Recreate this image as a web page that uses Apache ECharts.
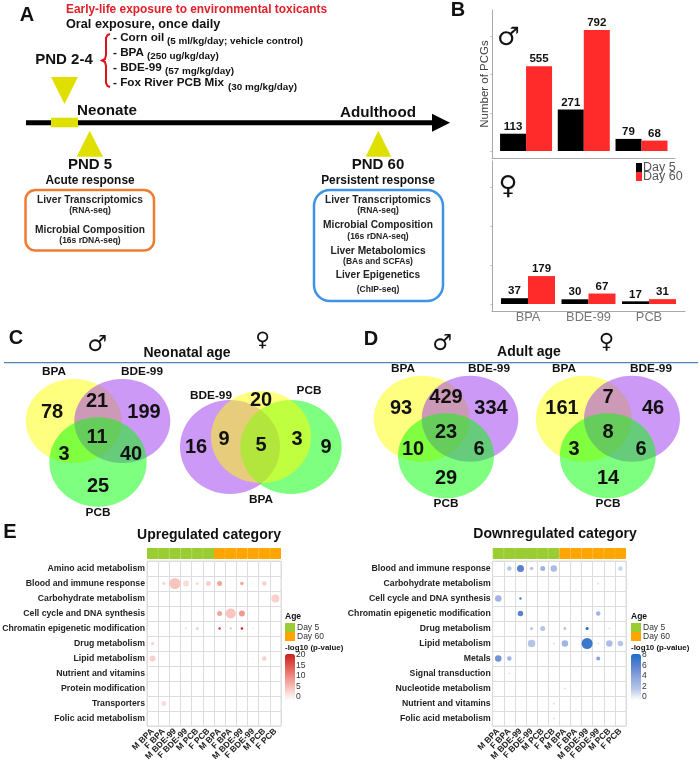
<!DOCTYPE html>
<html>
<head>
<meta charset="utf-8">
<title>Early-life exposure</title>
<script src="https://cdn.jsdelivr.net/npm/echarts@6/dist/echarts.min.js"></script>
<style>
    html, body { margin: 0; padding: 0; background: #fff; }
    #chart { width: 700px; height: 761px; }
</style>
</head>
<body>
<div id="chart"></div>
<script>
// panel B
const toxicants = ['BPA', 'BDE-99', 'PCB'];
const maleDay5 = [113, 271, 79];
const maleDay60 = [555, 792, 68];
const femaleDay5 = [37, 30, 17];
const femaleDay60 = [179, 67, 31];
const pcgTicks = [0, 250, 500, 750];

// panels C and D, region counts
const vennNeoMale = [78, 21, 199, 11, 3, 40, 25];
const vennNeoFemale = [16, 9, 20, 5, 3, 9];
const vennAdultMale = [93, 429, 334, 23, 10, 6, 29];
const vennAdultFemale = [161, 7, 46, 8, 3, 6, 14];

// panel E
const columns = ['M BPA', 'F BPA', 'M BDE-99', 'F BDE-99', 'M PCB', 'F PCB',
    'M BPA', 'F BPA', 'M BDE-99', 'F BDE-99', 'M PCB', 'F PCB'];
const ageGroups = ['Day 5', 'Day 5', 'Day 5', 'Day 5', 'Day 5', 'Day 5',
    'Day 60', 'Day 60', 'Day 60', 'Day 60', 'Day 60', 'Day 60'];
const upCategories = ['Amino acid metabolism', 'Blood and immune response', 'Carbohydrate metabolism',
    'Cell cycle and DNA synthesis', 'Chromatin epigenetic modification', 'Drug metabolism', 'Lipid metabolism',
    'Nutrient and vitamins', 'Protein modification', 'Transporters', 'Folic acid metabolism'];
const downCategories = ['Blood and immune response', 'Carbohydrate metabolism', 'Cell cycle and DNA synthesis',
    'Chromatin epigenetic modification', 'Drug metabolism', 'Lipid metabolism', 'Metals', 'Signal transduction',
    'Nucleotide metabolism', 'Nutrient and vitamins', 'Folic acid metabolism'];
// column, row, size, -log10 p
const upDots = [
    [4, 0, 2, 1],
    [1, 1, 3.5, 3], [2, 1, 11, 5], [3, 1, 6, 3], [4, 1, 3, 3], [5, 1, 5, 4], [6, 1, 5, 8], [8, 1, 3.5, 8], [9, 1, 2, 1], [10, 1, 4.5, 4],
    [9, 2, 1.5, 0.5], [11, 2, 8, 4],
    [4, 3, 2, 1], [6, 3, 5, 8], [7, 3, 10, 5], [8, 3, 6, 9],
    [3, 4, 2.5, 2], [4, 4, 3, 4], [6, 4, 2.5, 17], [7, 4, 2, 7], [8, 4, 2.5, 20], [9, 4, 2, 2],
    [0, 5, 3, 4],
    [0, 6, 6, 4], [4, 6, 2, 1], [5, 6, 2, 0.5], [9, 6, 2, 1], [10, 6, 4.5, 4],
    [5, 7, 1.5, 0.5],
    [9, 8, 1.5, 0.5],
    [1, 9, 5, 3],
    [5, 10, 1.5, 0.5]
];
const downDots = [
    [1, 0, 4.5, 2], [2, 0, 7, 6], [3, 0, 3.5, 2], [4, 0, 5, 3], [5, 0, 6.5, 2.5], [11, 0, 4.5, 1.5],
    [9, 1, 2, 1],
    [0, 2, 6.5, 3], [2, 2, 2.5, 6],
    [2, 3, 5.5, 6], [9, 3, 4.5, 3],
    [3, 4, 3, 2], [4, 4, 5, 2], [6, 4, 3, 2], [8, 4, 3, 8], [10, 4, 2, 1],
    [3, 5, 7.5, 2], [5, 5, 2, 1], [6, 5, 6.5, 3], [8, 5, 11, 7], [9, 5, 2, 1], [10, 5, 6.5, 2.5], [11, 5, 5.5, 2],
    [0, 6, 6.5, 5], [1, 6, 4.5, 3], [9, 6, 4, 4],
    [1, 7, 2, 1],
    [6, 8, 2, 1],
    [5, 9, 2, 1],
    [5, 10, 2, 1]
];
const upScale = [20, 15, 10, 5, 0];
const downScale = [8, 6, 4, 2, 0];

const FONT = '"Liberation Sans", Arial, sans-serif';
const graphics = [];

function text(x, y, str, size, opts) {
    opts = opts || {};
    graphics.push({
        type: 'text', x: x, y: y, silent: true, z: 20,
        style: {
            text: str,
            font: (opts.normal ? '' : 'bold ') + size + 'px ' + (opts.family || FONT),
            fill: opts.fill || '#111',
            textAlign: opts.align || 'center',
            textVerticalAlign: 'middle'
        }
    });
}
function ellipse(cx, cy, rx, ry, fill) {
    graphics.push({ type: 'ellipse', silent: true, z: 5, shape: { cx: cx, cy: cy, rx: rx, ry: ry }, style: { fill: fill } });
}
function triangle(points) {
    graphics.push({ type: 'polygon', silent: true, z: 6, shape: { points: points }, style: { fill: '#e0e000' } });
}
function box(x, y, w, h, r, color) {
    graphics.push({ type: 'rect', silent: true, z: 6, shape: { x: x, y: y, width: w, height: h, r: r }, style: { fill: '#fff', stroke: color, lineWidth: 2.5 } });
}
function gender(x, y, male, size) {
    text(x, y, male ? '\u2642' : '\u2640', size, { normal: true, family: '"DejaVu Sans"' });
}

const YELLOW = 'rgba(255,255,0,0.5)';
const PURPLE = 'rgba(153,51,238,0.5)';
const GREEN = 'rgba(0,255,0,0.5)';

// ---- panel A
text(27, 15, 'A', 20);
text(66, 9.5, 'Early-life exposure to environmental toxicants', 11.9, { align: 'left', fill: '#e0202a' });
text(66, 24, 'Oral exposure, once daily', 12.7, { align: 'left' });
text(113, 38, '- Corn oil', 11.7, { align: 'left' });
text(167, 41, '(5 ml/kg/day; vehicle control)', 9.9, { align: 'left' });
text(113, 53, '- BPA', 11.7, { align: 'left' });
text(147, 56, '(250 ug/kg/day)', 9.9, { align: 'left' });
text(113, 68, '- BDE-99', 11.7, { align: 'left' });
text(165, 71, '(57 mg/kg/day)', 9.9, { align: 'left' });
text(113, 83, '- Fox River PCB Mix', 11.7, { align: 'left' });
text(228, 87, '(30 mg/kg/day)', 9.9, { align: 'left' });
text(64, 60, 'PND 2-4', 15);
graphics.push({
    type: 'polyline', silent: true, z: 6,
    shape: { points: [[110, 34], [107.5, 35], [106, 38], [106, 55], [105, 59], [102, 60.5], [105, 62], [106, 66], [106, 83], [107.5, 86], [110, 87]] },
    style: { fill: null, stroke: '#e0101a', lineWidth: 2 }
});
triangle([[51, 77], [78, 77], [64.5, 104]]);
graphics.push({ type: 'rect', silent: true, z: 5, shape: { x: 26, y: 120.2, width: 407, height: 5 }, style: { fill: '#000' } });
graphics.push({ type: 'polygon', silent: true, z: 5, shape: { points: [[432, 113.7], [450, 122.7], [432, 131.7]] }, style: { fill: '#000' } });
graphics.push({ type: 'rect', silent: true, z: 6, shape: { x: 51, y: 117.7, width: 27, height: 9.6 }, style: { fill: '#e0e000' } });
text(77, 111, 'Neonate', 15.2, { align: 'left' });
text(378, 113, 'Adulthood', 15.2);
triangle([[76.7, 156.7], [103, 156.7], [89.7, 130.7]]);
triangle([[365.7, 156.7], [391.3, 156.7], [378.3, 130.7]]);
text(90, 164.5, 'PND 5', 15);
text(378, 164.5, 'PND 60', 15);
text(90, 181, 'Acute response', 11.9);
text(378, 181, 'Persistent response', 11.9);
box(25.5, 190, 128.5, 60.5, 10, '#ed7d31');
box(314, 190, 129, 111, 16, '#3d94e6');
[
    [90, 200, 'Liver Transcriptomics', 10.2], [90, 211, '(RNA-seq)', 8.5],
    [90, 230, 'Microbial Composition', 10.2], [90, 241, '(16s rDNA-seq)', 8.5],
    [378, 200, 'Liver Transcriptomics', 10.2], [378, 211, '(RNA-seq)', 8.5],
    [378, 225.5, 'Microbial Composition', 10.2], [378, 236.5, '(16s rDNA-seq)', 8.5],
    [378, 251, 'Liver Metabolomics', 10.2], [378, 262, '(BAs and SCFAs)', 8.5],
    [378, 275, 'Liver Epigenetics', 10.2], [378, 290, '(ChIP-seq)', 8.5]
].forEach(t => text(t[0], t[1], t[2], t[3], { fill: '#222' }));

// ---- panel B annotations
text(458, 10, 'B', 20);
gender(508.5, 38.5, true, 25.5);
gender(508, 187, false, 26);

// ---- panels C, D
graphics.push({ type: 'rect', silent: true, z: 4, shape: { x: 4, y: 362, width: 694, height: 1.2 }, style: { fill: '#4a86b8' } });
text(16, 338, 'C', 20);
text(371, 339, 'D', 20);
gender(97, 345, true, 22);
gender(262.5, 340.5, false, 20);
gender(442, 344, true, 22);
gender(606.5, 343, false, 21);
text(187, 353, 'Neonatal age', 14);
text(529, 352, 'Adult age', 14);

ellipse(73.7, 421, 48, 42, YELLOW);
ellipse(122.3, 421, 48, 42, PURPLE);
ellipse(98, 462, 48.7, 44.7, GREEN);

ellipse(230, 447, 50, 47, PURPLE);
ellipse(291, 447, 50.7, 47, GREEN);
ellipse(261, 437, 50, 46, YELLOW);

ellipse(421.7, 418.7, 48, 43, YELLOW);
ellipse(470, 418.7, 48.3, 43, PURPLE);
ellipse(446, 455.8, 48, 42.5, GREEN);

ellipse(583.8, 418.7, 48, 43, YELLOW);
ellipse(632, 418.7, 48, 43, PURPLE);
ellipse(607.8, 455.8, 48, 42.5, GREEN);

const neoMaleSpots = [[52, 412], [97, 401], [144, 412], [97, 437], [64, 454], [131, 454], [98, 486]];
const neoFemaleSpots = [[196, 447], [224, 439], [261, 400], [261, 445], [297, 439], [326, 447]];
const adultMaleSpots = [[401, 408], [446, 397], [491, 408], [446, 432], [413, 449], [479, 449], [446, 478]];
const adultFemaleSpots = [[562, 408], [608, 397], [653, 408], [608, 432], [574, 449], [641, 449], [608, 478]];
function vennNumbers(values, spots) {
    values.forEach((v, i) => text(spots[i][0], spots[i][1], String(v), 20));
}
vennNumbers(vennNeoMale, neoMaleSpots);
vennNumbers(vennNeoFemale, neoFemaleSpots);
vennNumbers(vennAdultMale, adultMaleSpots);
vennNumbers(vennAdultFemale, adultFemaleSpots);
[
    [54, 372, 'BPA'], [142, 372, 'BDE-99'], [98, 513, 'PCB'],
    [211, 396, 'BDE-99'], [309, 391, 'PCB'], [261, 500, 'BPA'],
    [403, 369, 'BPA'], [489, 369, 'BDE-99'], [446, 504, 'PCB'],
    [564, 369, 'BPA'], [651, 369, 'BDE-99'], [608, 504, 'PCB']
].forEach(t => text(t[0], t[1], t[2], 11.8));

// ---- panel E annotations
text(10, 532, 'E', 20);
text(209, 535, 'Upregulated category', 14);
text(555, 534, 'Downregulated category', 14);

function dotLegend(x, scale) {
    text(x, 617, 'Age', 8.5, { align: 'left' });
    graphics.push({ type: 'rect', silent: true, shape: { x: x, y: 623, width: 10, height: 9 }, style: { fill: '#9acd32' } });
    graphics.push({ type: 'rect', silent: true, shape: { x: x, y: 632, width: 10, height: 9 }, style: { fill: '#ffa500' } });
    text(x + 12, 628, 'Day 5', 8.5, { align: 'left', normal: true, fill: '#333' });
    text(x + 12, 636.5, 'Day 60', 8.5, { align: 'left', normal: true, fill: '#333' });
    text(x, 648, '-log10 (p-value)', 7.9, { align: 'left' });
    const spots = [655, 666, 676, 687, 697];
    scale.forEach((v, i) => text(x + 11, spots[i], String(v), 8.5, { align: 'left', normal: true, fill: '#333' }));
}
dotLegend(285, upScale);
dotLegend(631, downScale);

// ---- grids
const grids = [
    { left: 492, top: 10, width: 183, height: 148, outerBoundsMode: 'none' },
    { left: 492, top: 161, width: 193, height: 150, outerBoundsMode: 'none' },
    { left: 147, top: 561, width: 134, height: 165, show: true, borderColor: '#ddd', borderWidth: 1, outerBoundsMode: 'none' },
    { left: 492.7, top: 561, width: 133.3, height: 165, show: true, borderColor: '#ddd', borderWidth: 1, outerBoundsMode: 'none' },
    { left: 147, top: 548, width: 134, height: 11, outerBoundsMode: 'none' },
    { left: 492.7, top: 548, width: 133.3, height: 11, outerBoundsMode: 'none' }
];

function pcgX(grid, min, max, labels) {
    return {
        type: 'value', gridIndex: grid, min: min, max: max,
        splitLine: { show: false }, axisTick: { show: false },
        axisLine: { show: true, onZero: false, lineStyle: { color: '#aaa' } },
        axisLabel: labels
            ? { show: true, customValues: [0, 1, 2], formatter: v => toxicants[v], color: '#777', fontSize: 12.8, fontFamily: FONT, margin: 0 }
            : { show: false }
    };
}
function pcgY(grid, min, max, name) {
    return {
        type: 'value', gridIndex: grid, min: min, max: max,
        name: name, nameLocation: 'middle', nameRotate: 90, nameGap: 1,
        nameTextStyle: { color: '#444', fontSize: 11.5, fontFamily: FONT, align: 'center', padding: [0, 0, 0, 0] },
        splitLine: { show: false },
        axisLine: { show: true, onZero: false, lineStyle: { color: '#aaa' } },
        axisTick: { show: true, length: 2, inside: false, customValues: pcgTicks, lineStyle: { color: '#ccc' } },
        axisLabel: { show: false }
    };
}
function dotX(grid) {
    return {
        type: 'category', gridIndex: grid, data: columns,
        axisLine: { show: false }, axisTick: { show: false },
        splitLine: { show: true, interval: 0, lineStyle: { color: '#ddd', width: 1 } },
        axisLabel: { interval: 0, rotate: 45, margin: 4, fontSize: 8.5, fontWeight: 'bold', color: '#222', fontFamily: FONT }
    };
}
function dotY(grid, cats) {
    return {
        type: 'category', gridIndex: grid, data: cats, inverse: true,
        axisLine: { show: false }, axisTick: { show: false },
        splitLine: { show: true, interval: 0, lineStyle: { color: '#ddd', width: 1 } },
        axisLabel: { interval: 0, margin: 2, fontSize: 8.7, fontWeight: 'bold', color: '#222', fontFamily: FONT }
    };
}
function ageX(grid) {
    return { type: 'category', gridIndex: grid, data: columns, show: false };
}
function ageY(grid) {
    return { type: 'value', gridIndex: grid, min: 0, max: 1, show: false };
}

function pcgBars(name, color, values, axis) {
    return {
        type: 'bar', name: name, xAxisIndex: axis, yAxisIndex: axis,
        barWidth: axis === 0 ? 26 : 27, barGap: 0,
        itemStyle: { color: color },
        label: { show: true, position: 'top', distance: 1, color: '#111', fontWeight: 'bold', fontSize: 11.5, fontFamily: FONT, formatter: p => p.value[1] },
        data: values.map((v, i) => [i, v])
    };
}
function dots(axis, data) {
    return {
        type: 'scatter', xAxisIndex: axis, yAxisIndex: axis,
        symbolSize: d => d[2],
        itemStyle: { opacity: 1 },
        encode: { x: 0, y: 1 },
        data: data
    };
}
function ageBar(axis) {
    return {
        type: 'bar', xAxisIndex: axis, yAxisIndex: axis, barWidth: '100%', barCategoryGap: 0,
        data: ageGroups.map(g => {
            const c = g === 'Day 5' ? '#9acd32' : '#ffa500';
            return { value: 1, itemStyle: { color: c, borderColor: c, borderWidth: 1 } };
        })
    };
}

const chart = echarts.init(document.getElementById('chart'));
chart.setOption({
    animation: false,
    backgroundColor: '#fff',
    textStyle: { fontFamily: FONT },
    grid: grids,
    xAxis: [pcgX(0, -0.59, 2.58, false), pcgX(1, -0.595, 2.595, true), dotX(2), dotX(3), ageX(4), ageX(5)],
    yAxis: [pcgY(0, -46, 923, 'Number of PCGs'), pcgY(1, -45, 917, ''), dotY(2, upCategories), dotY(3, downCategories), ageY(4), ageY(5)],
    legend: {
        left: 636, top: 161, orient: 'vertical', padding: 0, itemGap: -4, itemWidth: 6, itemHeight: 9,
        icon: 'rect', data: ['Day 5', 'Day 60'],
        textStyle: { color: '#555', fontSize: 12.5, fontFamily: FONT, padding: [0, 0, 0, -4] }
    },
    visualMap: [
        {
            type: 'continuous', seriesIndex: 4, dimension: 3, min: 0, max: 20, left: 285, top: 654,
            itemWidth: 10, itemHeight: 46, padding: 0, calculable: false, text: null, hoverLink: false,
            inRange: { color: ['#ffffff', '#f7c4c0', '#ee8e86', '#e0554c', '#c81e1e'] }
        },
        {
            type: 'continuous', seriesIndex: 5, dimension: 3, min: 0, max: 8, left: 631, top: 654,
            itemWidth: 10, itemHeight: 46, padding: 0, calculable: false, text: null, hoverLink: false,
            inRange: { color: ['#ffffff', '#b4c5e9', '#8ba5dc', '#5a80cf', '#1a6fc8'] }
        }
    ],
    series: [
        pcgBars('Day 5', '#000', maleDay5, 0),
        pcgBars('Day 60', '#ff2a2a', maleDay60, 0),
        pcgBars('Day 5', '#000', femaleDay5, 1),
        pcgBars('Day 60', '#ff2a2a', femaleDay60, 1),
        dots(2, upDots),
        dots(3, downDots),
        ageBar(4),
        ageBar(5)
    ],
    graphic: graphics
});
</script>
</body>
</html>
